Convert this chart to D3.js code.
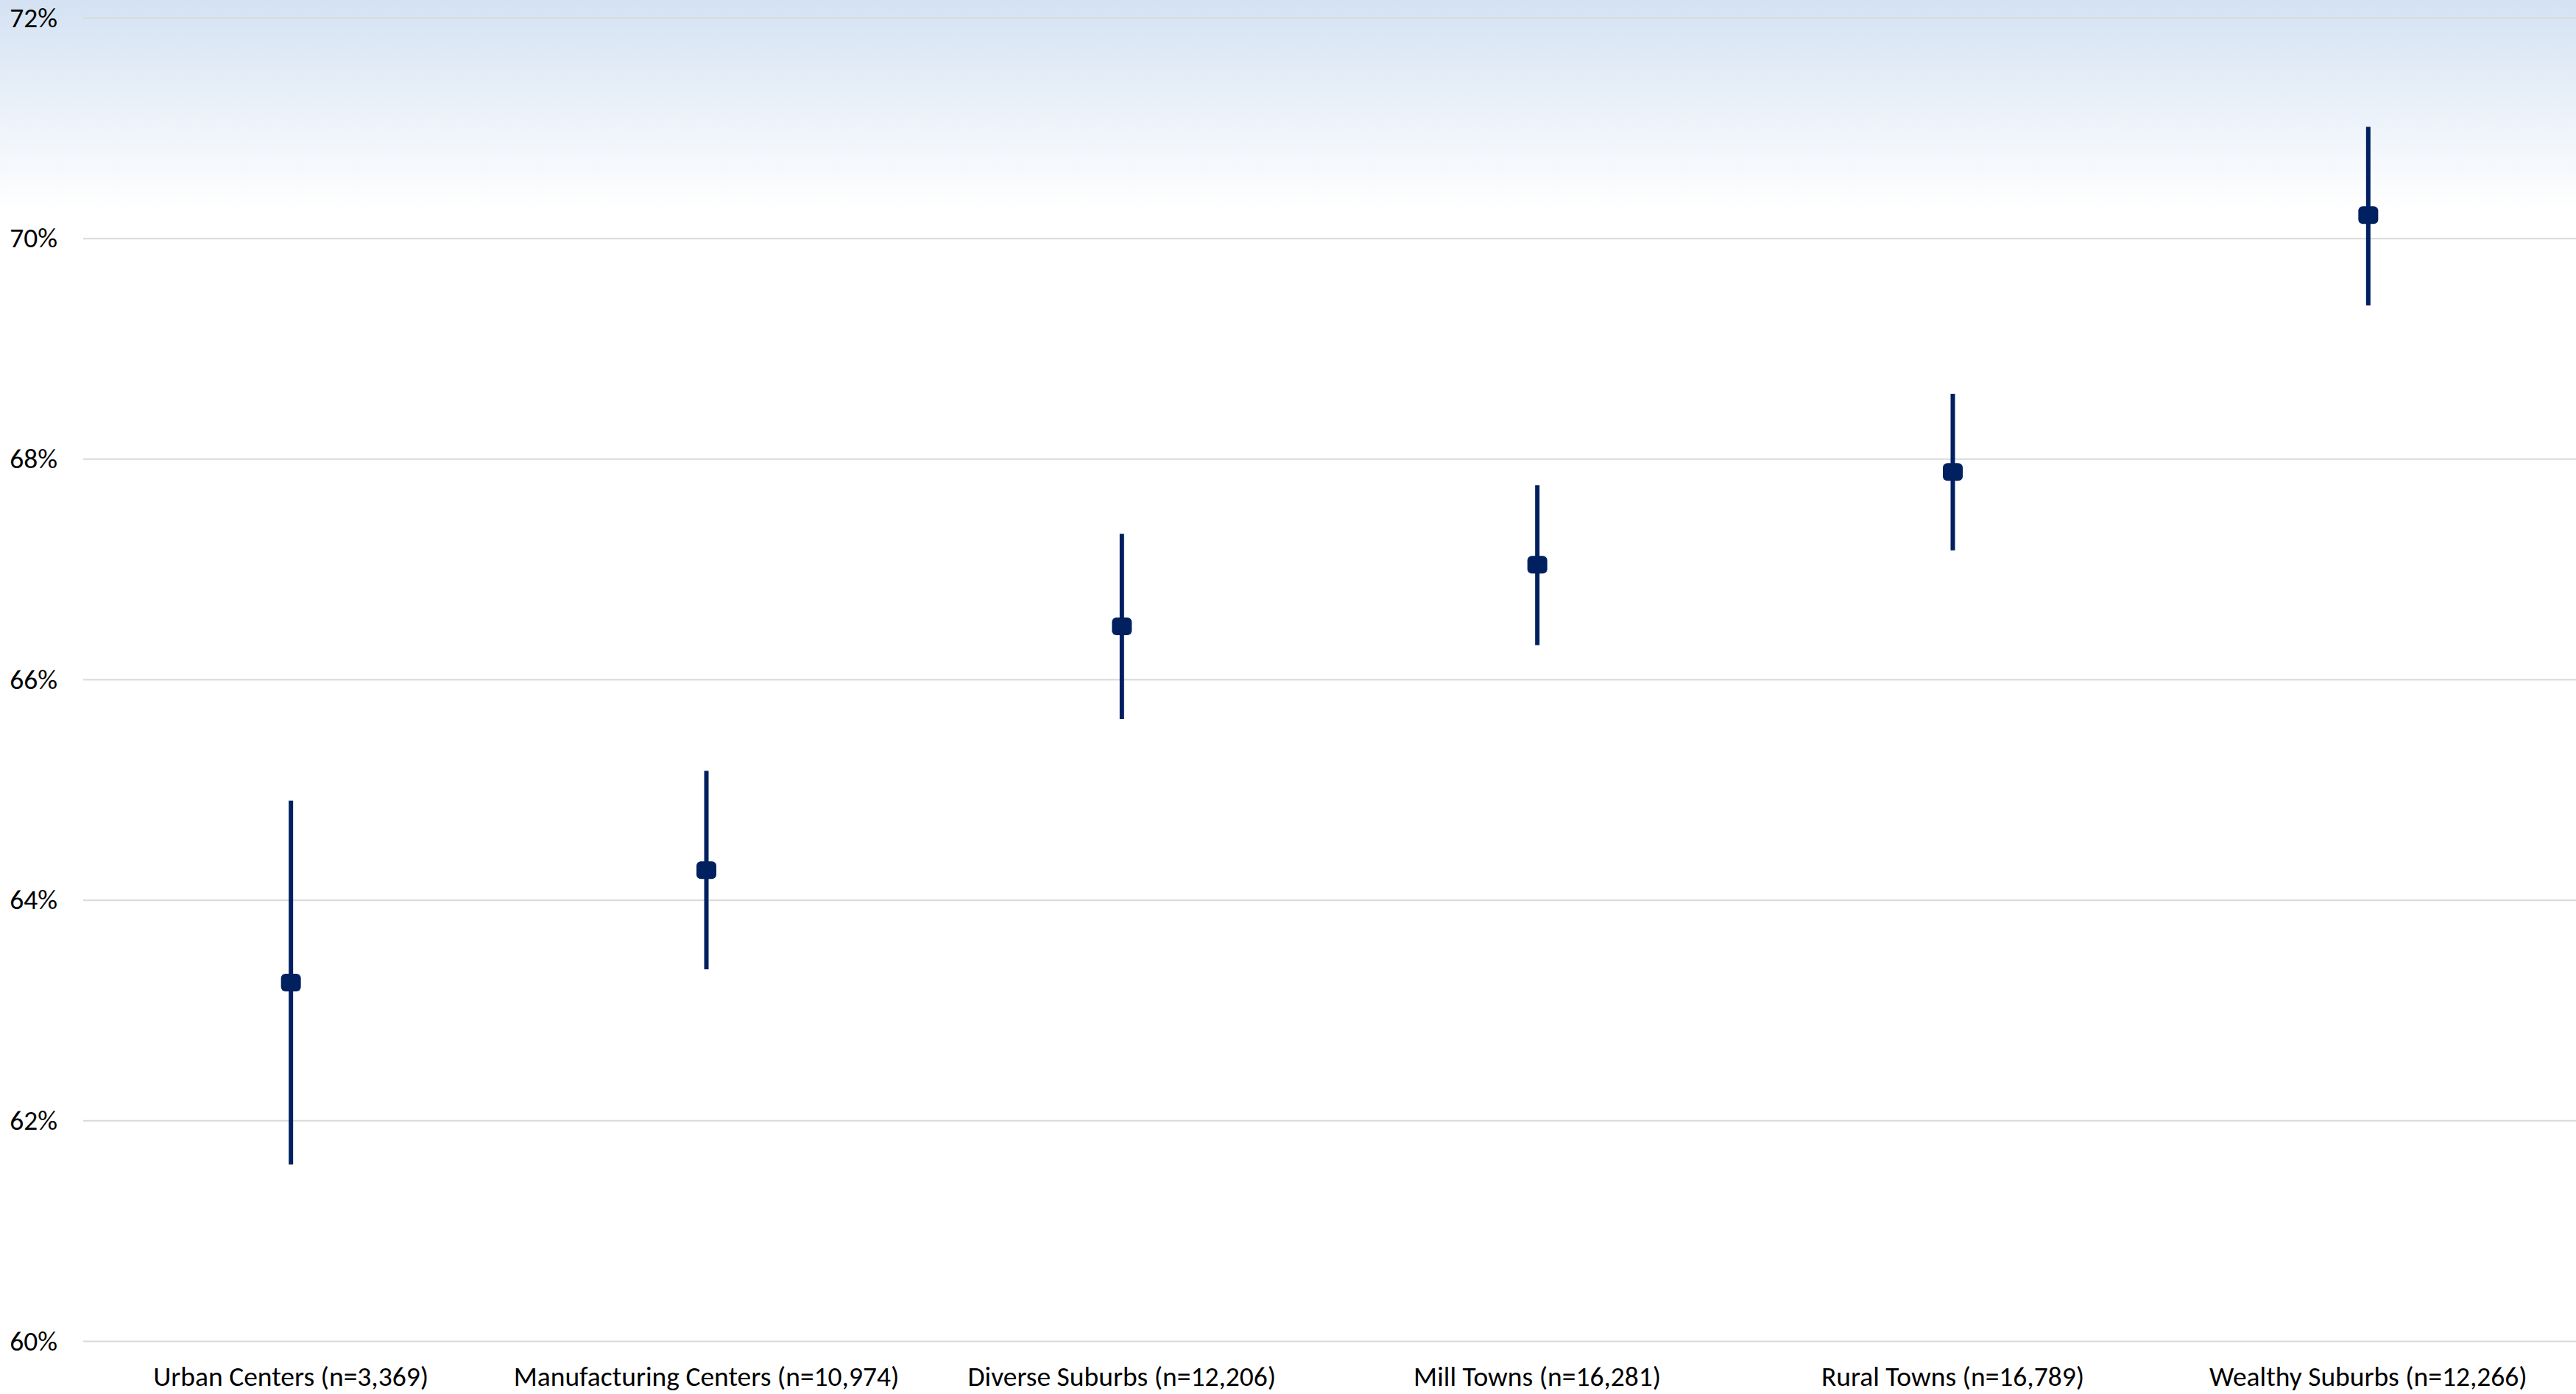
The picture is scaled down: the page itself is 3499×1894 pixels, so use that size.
<!DOCTYPE html>
<html>
<head>
<meta charset="utf-8">
<script src="https://cdn.jsdelivr.net/npm/d3@7"></script>
<style>
	html, body { margin: 0; padding: 0; background: #fff; }
	svg { display: block; }
	.axis text { font-family: Carlito, Lato, "Open Sans", sans-serif; font-size: 37.5px; fill: #000; }
	.axis .domain { display: none; }
	.grid-lines line { stroke: #d9d9d9; stroke-width: 2px; }
</style>
</head>
<body>
<svg id="chart"></svg>
<script>
var categories = [
	"Urban Centers (n=3,369)",
	"Manufacturing Centers (n=10,974)",
	"Diverse Suburbs (n=12,206)",
	"Mill Towns (n=16,281)",
	"Rural Towns (n=16,789)",
	"Wealthy Suburbs (n=12,266)"
];

// point estimate and confidence interval, in percent
var means = [63.25, 64.27, 66.48, 67.04, 67.88, 70.21];
var lower = [61.60, 63.37, 65.64, 66.31, 67.17, 69.39];
var upper = [64.90, 65.17, 67.32, 67.76, 68.59, 71.01];

var yTickValues = [60, 62, 64, 66, 68, 70, 72];

var sizes = {
	width: 3499,
	height: 1894,
	offset: { left: 113, top: 24 },
	chartWidth: 3499 - 113,
	chartHeight: 1822 - 24
};

var markColor = "#012060";

function translate(x, y) {
	return "translate(" + x + "," + y + ")";
}

function percentFormat(d) {
	return d + "%";
}

var svg = d3.select("#chart")
	.attr("width", sizes.width)
	.attr("height", sizes.height);

// soft blue wash at the top of the chart
var defs = svg.append("defs");
var grad = defs.append("linearGradient")
	.attr("id", "topWash")
	.attr("x1", 0).attr("y1", 0)
	.attr("x2", 0).attr("y2", 1);
grad.append("stop").attr("offset", "0%").attr("stop-color", "#d4e2f3");
grad.append("stop").attr("offset", "100%").attr("stop-color", "#ffffff");

svg.append("rect")
	.attr("x", 0)
	.attr("y", 0)
	.attr("width", sizes.width)
	.attr("height", 285)
	.attr("fill", "url(#topWash)");

var xScale = d3.scaleBand()
	.domain(categories)
	.range([0, sizes.chartWidth]);

var yScale = d3.scaleLinear()
	.domain([60, 72])
	.range([sizes.chartHeight, 0]);

var plot = svg.append("g")
	.attr("transform", translate(sizes.offset.left, sizes.offset.top));

// y axis, with ticks stretched across as rules
var yAxis = d3.axisLeft(yScale)
	.tickValues(yTickValues)
	.tickFormat(percentFormat)
	.tickSize(-sizes.chartWidth)
	.tickPadding(35);

plot.append("g")
	.attr("class", "axis y grid-lines")
	.call(yAxis);

var xAxis = d3.axisBottom(xScale)
	.tickSize(0)
	.tickPadding(34);

plot.append("g")
	.attr("class", "axis x")
	.attr("transform", translate(0, sizes.chartHeight))
	.call(xAxis);

var rows = categories.map(function(c, i) {
	return { name: c, mean: means[i], lo: lower[i], hi: upper[i] };
});

function cx(d) {
	return xScale(d.name) + xScale.bandwidth() / 2;
}

var marks = plot.append("g").attr("class", "marks");

marks.selectAll("line.whisker")
	.data(rows)
	.enter().append("line")
	.attr("class", "whisker")
	.attr("x1", cx).attr("x2", cx)
	.attr("y1", function(d) { return yScale(d.hi); })
	.attr("y2", function(d) { return yScale(d.lo); })
	.attr("stroke", markColor)
	.attr("stroke-width", 6);

var mw = 27, mh = 24;
marks.selectAll("rect.point")
	.data(rows)
	.enter().append("rect")
	.attr("class", "point")
	.attr("x", function(d) { return cx(d) - mw / 2; })
	.attr("y", function(d) { return yScale(d.mean) - mh / 2; })
	.attr("width", mw)
	.attr("height", mh)
	.attr("rx", 6)
	.attr("fill", markColor);
</script>
</body>
</html>
